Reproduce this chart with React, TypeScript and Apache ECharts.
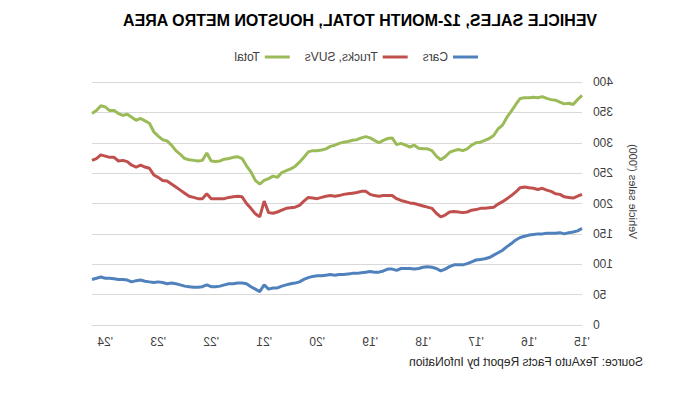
import React, { useEffect, useRef } from "react";
import * as echarts from "echarts";

const startYear = 2015;
const monthCount = 112;
const categories: string[] = Array.from({ length: monthCount }, (_, i) => {
  const y = startYear + Math.floor(i / 12);
  const m = (i % 12) + 1;
  return `${y}-${m < 10 ? "0" + m : m}`;
});

const yAxisTicks = [0, 50, 100, 150, 200, 250, 300, 350, 400];

const cars = [
  159, 155, 153, 152, 150, 152, 151, 151, 151, 150, 150, 149, 148, 146, 144, 140, 134, 129, 123, 119, 115, 111, 109, 108, 107, 104, 101, 99,
  99, 99, 96, 92, 89, 93, 95, 96, 95, 93, 92, 93, 93, 93, 90, 92, 92, 89, 87, 87, 88, 87, 86, 85, 85, 84, 83, 83, 82,
  83, 82, 81, 81, 80, 78, 75, 71, 69, 68, 66, 64, 61, 61, 59, 66, 55, 59, 63, 68, 69, 69, 68, 68, 66, 64, 63, 63,
  66, 63, 62, 62, 63, 64, 66, 68, 69, 68, 70, 71, 70, 71, 72, 74, 73, 71, 74, 75, 75, 76, 77, 77, 79, 77, 75,
];

const trucks = [
  215, 212, 209, 210, 211, 215, 216, 220, 222, 225, 223, 225, 226, 227, 226, 219, 213, 208, 203, 199, 194, 193, 192, 192, 190, 189, 186, 185,
  186, 187, 186, 181, 178, 184, 192, 194, 196, 198, 200, 201, 203, 205, 208, 213, 213, 213, 212, 213, 215, 220, 220, 218, 217, 216, 215, 213, 212,
  213, 212, 210, 208, 209, 210, 204, 197, 194, 193, 192, 189, 186, 184, 185, 204, 178, 183, 192, 200, 211, 212, 211, 210, 208, 208, 208, 208,
  216, 208, 208, 210, 212, 217, 222, 227, 232, 237, 238, 243, 247, 258, 260, 263, 260, 263, 269, 271, 270, 276, 276, 278, 280, 274, 271,
];

const total = [
  378, 371, 363, 365, 364, 367, 370, 371, 373, 376, 374, 375, 374, 374, 373, 363, 352, 342, 329, 323, 312, 307, 304, 301, 300, 296, 290, 287,
  289, 287, 284, 277, 272, 278, 287, 290, 290, 291, 296, 293, 296, 299, 297, 308, 307, 304, 300, 304, 308, 310, 308, 305, 304, 302, 301, 299, 296,
  294, 290, 288, 287, 287, 285, 276, 268, 261, 257, 254, 251, 243, 245, 241, 238, 232, 238, 252, 262, 274, 277, 276, 274, 273, 270, 269, 270,
  283, 271, 270, 271, 272, 274, 281, 287, 296, 303, 305, 311, 318, 332, 336, 340, 337, 342, 347, 345, 348, 353, 353, 359, 361, 353, 348,
];

const seriesNames = ["Cars", "Trucks, SUVs", "Total"];
const colors = ["#4F81BD", "#C0504D", "#9BBB59"];
const titleText = "VEHICLE SALES, 12-MONTH TOTAL, HOUSTON METRO AREA";
const sourceText = "Source: TexAuto Facts Report by InfoNation";
const yAxisName = "Vehicle sales ('000)";

export default function App() {
  const ref = useRef<HTMLDivElement>(null);
  useEffect(() => {
    if (!ref.current) return;
    const chart = echarts.init(ref.current, undefined, { renderer: "svg" });
    const font = "'Liberation Sans', Arial, sans-serif";
    const seriesData = [cars, trucks, total];
    chart.setOption({
      animation: false,
      textStyle: { fontFamily: font },
      color: colors,
      graphic: [
        {
          type: "text",
          x: 322,
          y: 20,
          style: {
            text: titleText,
            fontFamily: font,
            fontWeight: "bold",
            fontSize: 16,
            fill: "#000000",
            align: "center",
            verticalAlign: "middle",
          },
        },
        {
          type: "text",
          x: 39,
          y: 362,
          style: {
            text: sourceText,
            fontFamily: font,
            fontSize: 12,
            fill: "#262626",
            align: "left",
            verticalAlign: "middle",
          },
        },
      ],
      legend: {
        left: 199,
        top: 46,
        icon: "rect",
        itemWidth: 25,
        itemHeight: 3,
        itemGap: 15,
        textStyle: { fontSize: 12, color: "#404040", fontFamily: font },
        data: seriesNames,
      },
      grid: { left: 100, right: 92, top: 82, bottom: 76, containLabel: false },
      xAxis: {
        type: "category",
        data: categories,
        boundaryGap: false,
        axisLine: { show: true, lineStyle: { color: "#D9D9D9", width: 1 } },
        axisTick: { show: false },
        axisLabel: {
          interval: 11,
          margin: 11,
          color: "#404040",
          fontSize: 12,
          fontFamily: font,
          formatter: (v: string) => "'" + v.slice(2, 4),
        },
        splitLine: { show: false },
      },
      yAxis: {
        type: "value",
        min: yAxisTicks[0],
        max: yAxisTicks[yAxisTicks.length - 1],
        interval: 50,
        name: yAxisName,
        nameLocation: "middle",
        nameRotate: 90,
        nameGap: 45,
        nameTextStyle: {
          fontSize: 11,
          color: "#404040",
          fontFamily: font,
          padding: [0, 0, 0, 24],
        },
        axisLine: { show: false },
        axisTick: { show: false },
        axisLabel: { margin: 11, color: "#404040", fontSize: 12, fontFamily: font },
        splitLine: { lineStyle: { color: "#D9D9D9", width: 1 } },
      },
      series: seriesNames.map((name, i) => ({
        name,
        type: "line",
        data: seriesData[i],
        showSymbol: false,
        symbol: "none",
        lineStyle: { width: 3, color: colors[i] },
        itemStyle: { color: colors[i] },
      })),
    });
    return () => chart.dispose();
  }, []);
  return (
    <div
      ref={ref}
      style={{
        position: "absolute",
        left: 0,
        top: 0,
        width: 682,
        height: 401,
        transform: "scaleX(-1)",
        background: "#ffffff",
      }}
    />
  );
}
